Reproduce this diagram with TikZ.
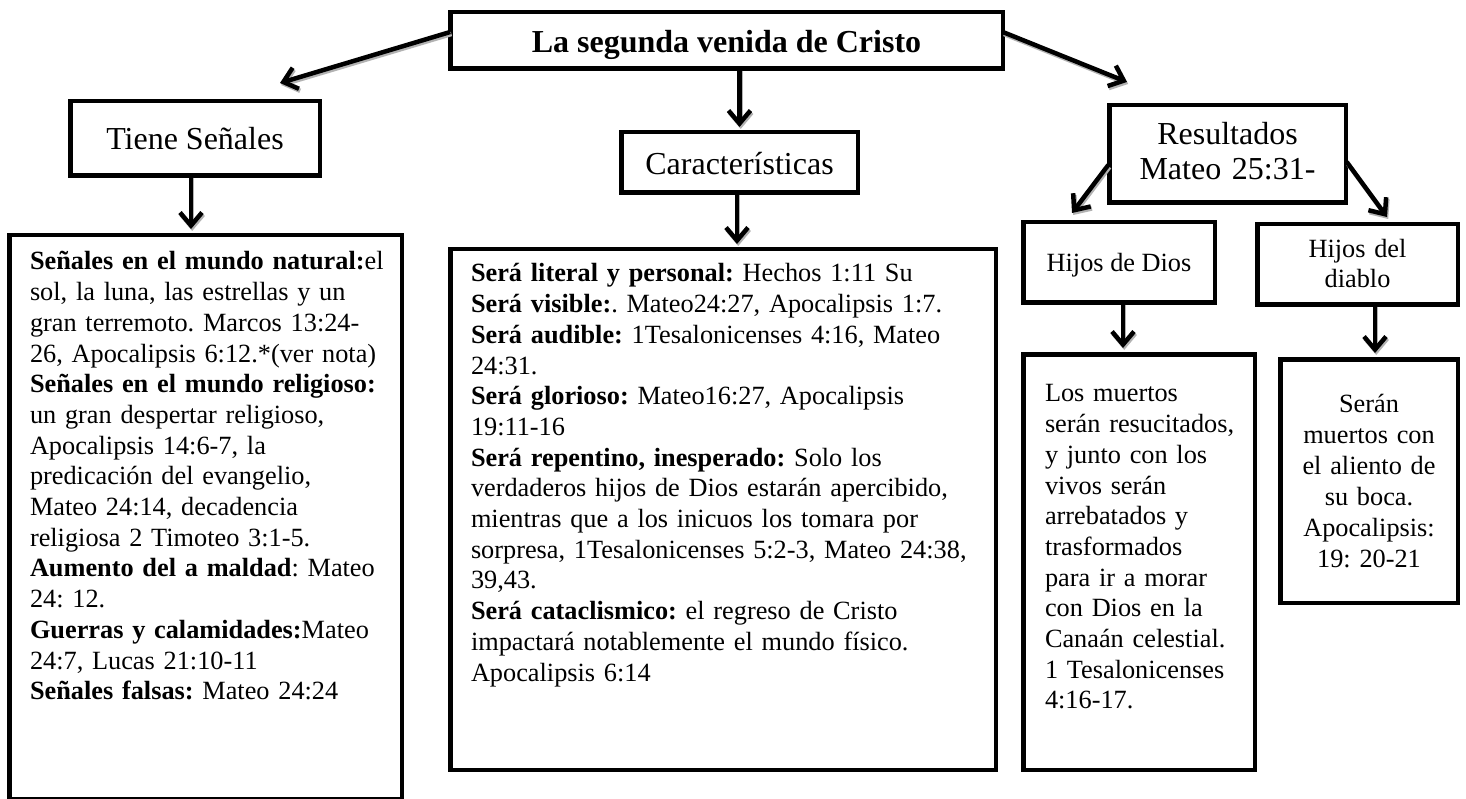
\documentclass[tikz,border=0pt]{standalone}
\usepackage{fontspec}
\setmainfont{Liberation Serif}
\usetikzlibrary{arrows.meta,calc}
\frenchspacing
\newcommand{\bodyfont}{\fontsize{26.3}{30.7}\selectfont}
\newcommand{\headfont}{\fontsize{32}{35}\selectfont}
\newcommand{\arr}[2]{%
  \draw[arrshadow,transform canvas={shift={(1.2pt,-2pt)}}] #1 -- #2;
  \draw[conn] #1 -- #2;}
\begin{document}
\begin{tikzpicture}[x=1pt,y=-1pt,
  box/.style={draw=black, line width=4.5pt, inner sep=0pt, outer sep=0pt, fill=none},
  conn/.style={draw=black, line width=4.5pt, -{Straight Barb[length=13pt,width=22pt]}},
  arrshadow/.style={draw=black!30, line width=4.5pt, -{Straight Barb[length=13pt,width=22pt]}},
  txt/.style={inner sep=0pt, outer sep=0pt, font=\bodyfont, align=left, text width=530pt, anchor=north west},
  ctxt/.style={inner sep=0pt, outer sep=0pt, align=center, anchor=north},
  lbl/.style={inner sep=0pt, outer sep=0pt, font=\headfont, anchor=base}]
\useasboundingbox (0,0) rectangle (1466,799);
\fill[white] (0,0) rectangle (1466,799);

% boxes
\node[box, minimum width=552.5pt, minimum height=56.5pt] (title) at (726.5,40.5) {};
\node[box, minimum width=249.5pt, minimum height=74.5pt] (tiene) at (195,138.5) {};
\node[box, minimum width=236.5pt, minimum height=60.5pt] (caract) at (739.5,162.5) {};
\node[box, minimum width=236.5pt, minimum height=97.5pt] (result) at (1227.5,154) {};
\node[box, minimum width=191.5pt, minimum height=80.5pt] (hdios) at (1119,262.5) {};
\node[box, minimum width=200.5pt, minimum height=80.5pt] (hdiablo) at (1357.5,264.5) {};
\node[box, minimum width=392.5pt, minimum height=563.5pt] (left) at (205.5,517) {};
\node[box, minimum width=545.5pt, minimum height=520.5pt] (mid) at (723,509.5) {};
\node[box, minimum width=231.5pt, minimum height=415.5pt] (ldios) at (1139,562) {};
\node[box, minimum width=177.5pt, minimum height=243.5pt] (ldiablo) at (1369,481) {};

% labels
\node[lbl, font=\headfont\bfseries] (titletxt) at (726.5,53) {La segunda venida de Cristo};
\node[lbl] (tienetxt) at (195,150) {Tiene Señales};
\node[lbl] (caracttxt) at (739.5,175) {Características};
\node[ctxt, font=\headfont, text width=230pt] (resulttxt) at (1227.5,120.5) {\strut Resultados\\Mateo 25:31-};
\node[lbl, font=\bodyfont] (hdiostxt) at (1119,272) {Hijos de Dios};
\node[ctxt, font=\fontsize{26.3}{30}\selectfont, text width=195pt] (hdiablotxt) at (1357.5,237) {\strut Hijos del\\diablo};

% body texts
\node[txt] (lefttxt) at (30,248.5) {\strut\textbf{Señales en el mundo natural:}el\\
sol, la luna, las estrellas y un\\
gran terremoto. Marcos 13:24-\\
26, Apocalipsis 6:12.*(ver nota)\\
\textbf{Señales en el mundo religioso:}\\
un gran despertar religioso,\\
Apocalipsis 14:6-7, la\\
predicación del evangelio,\\
Mateo 24:14, decadencia\\
religiosa 2 Timoteo 3:1-5.\\
\textbf{Aumento del a maldad}: Mateo\\
24: 12.\\
\textbf{Guerras y calamidades:}Mateo\\
24:7, Lucas 21:10-11\\
\textbf{Señales falsas:} Mateo 24:24};

\node[txt] (midtxt) at (471,260.5) {\strut\textbf{Será literal y personal:} Hechos 1:11 Su\\
\textbf{Será visible:}. Mateo24:27, Apocalipsis 1:7.\\
\textbf{Será audible:} 1Tesalonicenses 4:16, Mateo\\
24:31.\\
\textbf{Será glorioso:} Mateo16:27, Apocalipsis\\
19:11-16\\
\textbf{Será repentino, inesperado:} Solo los\\
verdaderos hijos de Dios estarán apercibido,\\
mientras que a los inicuos los tomara por\\
sorpresa, 1Tesalonicenses 5:2-3, Mateo 24:38,\\
39,43.\\
\textbf{Será cataclismico:} el regreso de Cristo\\
impactará notablemente el mundo físico.\\
Apocalipsis 6:14};

\node[txt] (ldiostxt) at (1045,380.5) {\strut Los muertos\\
serán resucitados,\\
y junto con los\\
vivos serán\\
arrebatados y\\
trasformados\\
para ir a morar\\
con Dios en la\\
Canaán celestial.\\
1 Tesalonicenses\\
4:16-17.};

\node[ctxt, font=\fontsize{26.3}{31}\selectfont, text width=175pt] (ldiablotxt) at (1369,390.3) {\strut Serán\\
muertos con\\
el aliento de\\
su boca.\\
Apocalipsis:\\
19: 20-21};

% arrow tips
\coordinate (t1) at (280,83);
\coordinate (t2) at (739.5,127);
\coordinate (t3) at (1127,82);
\coordinate (t4) at (191,229);
\coordinate (t5) at (737,244);
\coordinate (t6) at (1072,213);
\coordinate (t7) at (1387,217);
\coordinate (t8) at (1123,348);
\coordinate (t9) at (1375,353);

% connectors
\arr{($(title.west)+(0,-8.5)$)}{(t1)}
\arr{(title.south -| t2)}{(t2)}
\arr{($(title.east)+(0,-8.5)$)}{(t3)}
\arr{(tiene.south -| t4)}{(t4)}
\arr{(caract.south -| t5)}{(t5)}
\arr{($(result.west)+(-1,11)$)}{(t6)}
\arr{($(result.east)+(1,8)$)}{(t7)}
\arr{(hdios.south -| t8)}{(t8)}
\arr{(hdiablo.south -| t9)}{(t9)}
\end{tikzpicture}
\end{document}
